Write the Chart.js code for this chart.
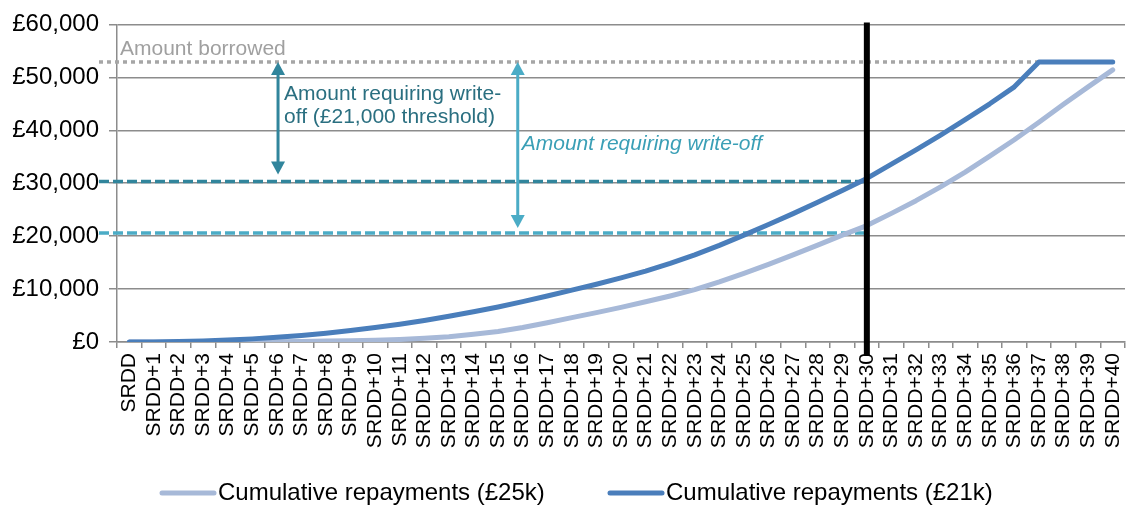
<!DOCTYPE html>
<html>
<head>
<meta charset="utf-8">
<script src="https://cdn.jsdelivr.net/npm/chart.js@4.4.1/dist/chart.umd.min.js"></script>
<style>
    html, body { margin: 0; padding: 0; background: #fff; }
    #wrap { width: 1129px; height: 505px; }
</style>
</head>
<body>
<div id="wrap"><canvas id="repayChart" width="1129" height="505"></canvas></div>
<script>
// Years after statutory repayment due date
const years = [
    "SRDD", "SRDD+1", "SRDD+2", "SRDD+3", "SRDD+4", "SRDD+5", "SRDD+6", "SRDD+7", "SRDD+8", "SRDD+9",
    "SRDD+10", "SRDD+11", "SRDD+12", "SRDD+13", "SRDD+14", "SRDD+15", "SRDD+16", "SRDD+17", "SRDD+18", "SRDD+19",
    "SRDD+20", "SRDD+21", "SRDD+22", "SRDD+23", "SRDD+24", "SRDD+25", "SRDD+26", "SRDD+27", "SRDD+28", "SRDD+29",
    "SRDD+30", "SRDD+31", "SRDD+32", "SRDD+33", "SRDD+34", "SRDD+35", "SRDD+36", "SRDD+37", "SRDD+38", "SRDD+39",
    "SRDD+40"
];

// Cumulative repayments, £25k threshold
const repay25k = [
    0, 0, 0, 0, 0, 20, 60, 110, 170, 240,
    330, 480, 700, 1000, 1450, 2000, 2750, 3650, 4600, 5550,
    6550, 7600, 8700, 9900, 11350, 12950, 14650, 16450, 18300, 20200,
    22000, 24300, 26700, 29300, 32100, 35100, 38200, 41500, 44900, 48200,
    51400
];

// Cumulative repayments, £21k threshold
const repay21k = [
    0, 20, 80, 190, 360, 590, 880, 1240, 1670, 2170,
    2740, 3370, 4070, 4850, 5700, 6620, 7620, 8700, 9800, 10900,
    12100, 13400, 14850, 16450, 18250, 20200, 22200, 24250, 26400, 28600,
    30900, 33600, 36300, 39100, 42000, 45000, 48200, 52900, 52900, 52900,
    52900
];

const seriesNames = ["Cumulative repayments (£25k)", "Cumulative repayments (£21k)"];
const seriesColors = ["#A7B9D8", "#4A7EBB"];

// Reference levels
const amountBorrowed = 52900;
const writeOff21kLevel = 30300;
const writeOff25kLevel = 20600;
const cutoffYear = "SRDD+30";
const arrowYears = [6.05, 15.8];

const FONT = '"Liberation Sans", Arial, sans-serif';
Chart.defaults.font.family = FONT;

function drawArrow(ctx, x, yTop, yBottom, color) {
    const head = 13, half = 7;
    ctx.strokeStyle = color;
    ctx.fillStyle = color;
    ctx.lineWidth = 3;
    ctx.setLineDash([]);
    ctx.beginPath();
    ctx.moveTo(x, yTop + head - 1);
    ctx.lineTo(x, yBottom - head + 1);
    ctx.stroke();
    ctx.beginPath();
    ctx.moveTo(x, yTop);
    ctx.lineTo(x - half, yTop + head);
    ctx.lineTo(x + half, yTop + head);
    ctx.closePath();
    ctx.fill();
    ctx.beginPath();
    ctx.moveTo(x, yBottom);
    ctx.lineTo(x - half, yBottom - head);
    ctx.lineTo(x + half, yBottom - head);
    ctx.closePath();
    ctx.fill();
}

// Dashed / dotted reference lines, marker, arrows, labels and legend
const refLinesPlugin = {
    id: "refLines",
    beforeDatasetsDraw(chart) {
        const { ctx, chartArea, scales: { x, y } } = chart;
        const xCut = x.getPixelForValue(years.indexOf(cutoffYear));
        const xStart = chartArea.left - 18;
        ctx.save();
        ctx.lineWidth = 3.5;

        ctx.setLineDash([4, 4]);
        ctx.strokeStyle = "#A6A6A6";
        ctx.beginPath();
        ctx.moveTo(xStart, y.getPixelForValue(amountBorrowed));
        ctx.lineTo(x.getPixelForValue(years.length - 1), y.getPixelForValue(amountBorrowed));
        ctx.stroke();

        ctx.setLineDash([10, 4]);
        ctx.strokeStyle = "#31859C";
        ctx.beginPath();
        ctx.moveTo(xStart, y.getPixelForValue(writeOff21kLevel));
        ctx.lineTo(xCut, y.getPixelForValue(writeOff21kLevel));
        ctx.stroke();

        ctx.strokeStyle = "#4BACC6";
        ctx.beginPath();
        ctx.moveTo(xStart, y.getPixelForValue(writeOff25kLevel));
        ctx.lineTo(xCut, y.getPixelForValue(writeOff25kLevel));
        ctx.stroke();
        ctx.restore();
    },
    afterDatasetsDraw(chart) {
        const { ctx, chartArea, scales: { x, y } } = chart;
        const xCut = x.getPixelForValue(years.indexOf(cutoffYear));
        ctx.save();

        // cut-off year marker
        ctx.setLineDash([]);
        ctx.strokeStyle = "#000";
        ctx.lineWidth = 6;
        ctx.beginPath();
        ctx.moveTo(xCut, chartArea.top - 2);
        ctx.lineTo(xCut, chartArea.bottom + 14);
        ctx.stroke();

        // arrows
        const yBorrow = y.getPixelForValue(amountBorrowed);
        const xa1 = x.getPixelForValue(arrowYears[0]);
        const xa2 = x.getPixelForValue(arrowYears[1]);
        drawArrow(ctx, xa1, yBorrow, y.getPixelForValue(writeOff21kLevel) - 7, "#31859C");
        drawArrow(ctx, xa2, yBorrow, y.getPixelForValue(writeOff25kLevel) - 5, "#4BACC6");

        // labels
        ctx.textAlign = "left";
        ctx.textBaseline = "alphabetic";
        ctx.font = "21px " + FONT;
        ctx.fillStyle = "#A0A0A0";
        ctx.fillText("Amount borrowed", chartArea.left + 3, yBorrow - 7);

        ctx.fillStyle = "#2A6F80";
        ctx.fillText("Amount requiring write-", xa1 + 6, yBorrow + 38);
        ctx.fillText("off (£21,000 threshold)", xa1 + 6, yBorrow + 61);

        ctx.font = "italic 21px " + FONT;
        ctx.fillStyle = "#3A9FB6";
        ctx.fillText("Amount requiring write-off", xa2 + 4, yBorrow + 88);
        ctx.restore();
    },
    afterDraw(chart) {
        const { ctx } = chart;
        const legendX = [160, 608];
        const legendY = 493;
        ctx.save();
        ctx.font = "24px " + FONT;
        ctx.textBaseline = "middle";
        ctx.textAlign = "left";
        seriesNames.forEach((name, i) => {
            ctx.strokeStyle = seriesColors[i];
            ctx.lineWidth = 5;
            ctx.lineCap = "round";
            ctx.beginPath();
            ctx.moveTo(legendX[i] + 2, legendY);
            ctx.lineTo(legendX[i] + 54, legendY);
            ctx.stroke();
            ctx.fillStyle = "#000";
            ctx.fillText(name, legendX[i] + 58, legendY);
        });
        ctx.restore();
    }
};

const ctx = document.getElementById("repayChart").getContext("2d");
const repayChart = new Chart(ctx, {
    type: "line",
    data: {
        labels: years,
        datasets: [
            {
                label: seriesNames[0],
                data: repay25k,
                borderColor: seriesColors[0],
                backgroundColor: seriesColors[0],
                borderWidth: 5,
                pointRadius: 0,
                tension: 0,
                borderCapStyle: "round",
                borderJoinStyle: "round",
                order: 1
            },
            {
                label: seriesNames[1],
                data: repay21k,
                borderColor: seriesColors[1],
                backgroundColor: seriesColors[1],
                borderWidth: 5,
                pointRadius: 0,
                tension: 0,
                borderCapStyle: "round",
                borderJoinStyle: "round",
                order: 0
            }
        ]
    },
    options: {
        responsive: false,
        animation: false,
        devicePixelRatio: 1,
        layout: { padding: { top: 22, right: 4, left: 0, bottom: 0 } },
        plugins: {
            legend: { display: false },
            tooltip: { enabled: false }
        },
        scales: {
            x: {
                offset: true,
                grid: {
                    offset: true,
                    drawOnChartArea: false,
                    tickLength: 6,
                    color: "#8C8C8C",
                    lineWidth: 1.5
                },
                border: { color: "#8C8C8C", width: 1.5 },
                ticks: {
                    autoSkip: false,
                    minRotation: 90,
                    maxRotation: 90,
                    padding: 5,
                    color: "#000",
                    font: { size: 21 }
                },
                afterFit(scale) {
                    scale.height = 163;
                    scale.paddingLeft = 0;
                    scale.paddingRight = 0;
                }
            },
            y: {
                min: 0,
                max: 60000,
                grid: { color: "#8C8C8C", lineWidth: 1.5, tickLength: 8 },
                border: { color: "#8C8C8C", width: 1.5 },
                ticks: {
                    stepSize: 10000,
                    padding: 10,
                    color: "#000",
                    font: { size: 24 },
                    callback: v => "£" + v.toLocaleString("en-GB")
                },
                afterFit(scale) { scale.width = 117; }
            }
        }
    },
    plugins: [refLinesPlugin]
});
</script>
</body>
</html>
